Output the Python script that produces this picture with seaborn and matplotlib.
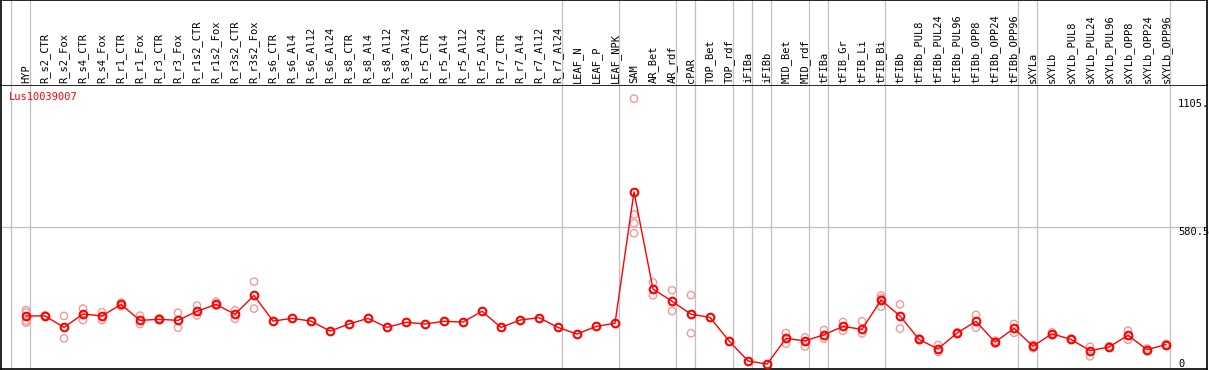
import matplotlib
matplotlib.use("Agg")
import matplotlib.pyplot as plt
import numpy as np
import pandas as pd
import seaborn as sns

# Column labels (in plotting order)
categories = [
    "HYP",
    "R_s2_CTR", "R_s2_Fox", "R_s4_CTR", "R_s4_Fox", "R_r1_CTR", "R_r1_Fox",
    "R_r3_CTR", "R_r3_Fox", "R_r1s2_CTR", "R_r1s2_Fox", "R_r3s2_CTR", "R_r3s2_Fox",
    "R_s6_CTR", "R_s6_Al4", "R_s6_Al12", "R_s6_Al24",
    "R_s8_CTR", "R_s8_Al4", "R_s8_Al12", "R_s8_Al24",
    "R_r5_CTR", "R_r5_Al4", "R_r5_Al12", "R_r5_Al24",
    "R_r7_CTR", "R_r7_Al4", "R_r7_Al12", "R_r7_Al24",
    "LEAF_N", "LEAF_P", "LEAF_NPK",
    "SAM", "AR_Bet", "AR_rdf", "cPAR", "TOP_Bet", "TOP_rdf",
    "iFIBa", "iFIBb", "MID_Bet", "MID_rdf",
    "tFIBa", "tFIB_Gr", "tFIB_Li", "tFIB_Bi",
    "tFIBb", "tFIBb_PUL8", "tFIBb_PUL24", "tFIBb_PUL96",
    "tFIBb_OPP8", "tFIBb_OPP24", "tFIBb_OPP96",
    "sXYLa", "sXYLb", "sXYLb_PUL8", "sXYLb_PUL24", "sXYLb_PUL96",
    "sXYLb_OPP8", "sXYLb_OPP24", "sXYLb_OPP96",
]

# Mean expression per column
mean_values = [
    217,
    217, 170, 225, 217, 264, 199, 203, 199, 236, 264, 224, 301,
    196, 207, 196, 155,
    184, 207, 170, 191,
    184, 195, 192, 236,
    170, 200, 210, 170,
    143, 174, 187,
    724, 327, 277, 224, 211, 115,
    33, 20, 125, 115,
    140, 174, 162, 282,
    217, 121, 82, 147, 195, 110, 166,
    93, 144, 121, 75, 90, 138, 79, 100,
]

# Individual replicates (empty = only one sample)
replicate_values = [
    [241, 232, 197, 189],
    [219, 215], [217, 125], [247, 200], [232, 200], [272, 257], [218, 184],
    [207, 200], [230, 169], [259, 219], [275, 259], [240, 205], [357, 247],
    [], [], [], [],
    [], [], [], [],
    [], [], [], [],
    [], [], [], [],
    [], [], [],
    [1105, 632, 596, 555], [354, 301], [322, 237], [302, 146], [], [],
    [], [], [147, 104], [129, 92],
    [159, 124], [192, 156], [195, 146], [300, 289, 255],
    [264, 165], [125, 118], [98, 70], [150, 144], [221, 169], [116, 105], [184, 148],
    [99, 85], [150, 140], [124, 119], [91, 52], [93, 87], [157, 119], [84, 73], [103, 96],
]

# last column index of each tissue group (separator drawn right after it)
group_ends = [-1, 0, 28, 31, 34, 35, 37, 38, 39, 41, 42, 45, 52, 53, 60]

gene_name = "Lus10039007"
y_max = 1161
y_labels = [(1105, "1105.", "top"), (580.5, "580.5", "top"), (0, "0", "bottom")]

mean_df = pd.DataFrame({"pos": np.arange(len(categories)), "value": mean_values})
rep_df = pd.DataFrame(
    [(i, v) for i, reps in enumerate(replicate_values) for v in reps],
    columns=["pos", "value"],
)

sns.set_style("white")
plt.rcParams["font.family"] = ["DejaVu Sans Mono", "DejaVu Sans"]
plt.rcParams["font.size"] = 7.5

W, H = 1209, 370
fig = plt.figure(figsize=(W / 100, H / 100), dpi=100)
left = 1 / W
width = 1206 / W
ax = fig.add_axes([left, 1 / H, width, 284 / H])
hdr = fig.add_axes([left, 285 / H, width, 85 / H])

xlim = (-1.316, 62.158)
grey = "#c0c0c0"

# header with rotated column names
hdr.set_xlim(*xlim)
hdr.set_ylim(0, 1)
for i, name in enumerate(categories):
    hdr.text(i, 0.025, name, rotation=90, ha="center", va="bottom",
             fontsize=7.5, color="black")
for g in group_ends:
    hdr.axvline(g + 0.22, color=grey, lw=0.9, zorder=0)
hdr.set_xticks([])
hdr.set_yticks([])
for s in hdr.spines.values():
    s.set_color("black")
    s.set_linewidth(1.2)
hdr.spines["bottom"].set_visible(False)

# main plot
ax.set_xlim(*xlim)
ax.set_ylim(0, y_max)
for g in group_ends:
    ax.axvline(g + 0.22, color=grey, lw=0.9, zorder=0)
ax.axhline(580.5, color=grey, lw=0.9, zorder=0)

sns.scatterplot(data=rep_df, x="pos", y="value", ax=ax, s=28, marker="o",
                facecolors="none", edgecolor="#ef9a9a", linewidth=1.0,
                zorder=2, legend=False)
sns.lineplot(data=mean_df, x="pos", y="value", ax=ax, color="#ff0000",
             linewidth=1.0, marker="o", markersize=5.5,
             markerfacecolor="none", markeredgecolor="#ff0000",
             markeredgewidth=1.5, zorder=3, legend=False)

ax.text(0.0066, 0.958, gene_name, transform=ax.transAxes, color="#ff0000",
        ha="left", va="center", fontsize=7.5)
for val, lab, va in y_labels:
    ax.text(0.976, val, lab, transform=ax.get_yaxis_transform(),
            ha="left", va=va, fontsize=7.5, color="black")

ax.set_xticks([])
ax.set_yticks([])
ax.set_xlabel("")
ax.set_ylabel("")
for s in ax.spines.values():
    s.set_color("black")
    s.set_linewidth(1.2)

fig.savefig("out.png", dpi=100)
